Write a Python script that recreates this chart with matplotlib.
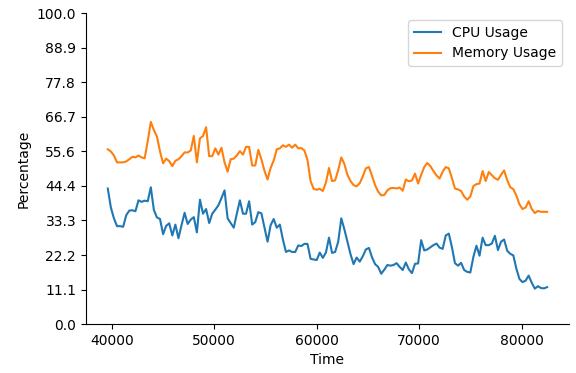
import numpy as np
import matplotlib
matplotlib.use("Agg")
import matplotlib.pyplot as plt

# sample times (one reading every 300 time units)
time = np.arange(39600, 82800, 300)

cpu_usage = [
    43.6, 37.5, 34.0, 31.5, 31.5, 31.3, 35.0, 36.5, 36.6, 36.3,
    39.8, 39.3, 39.7, 39.5, 44.0, 36.7, 34.3, 33.8, 28.9, 31.6,
    32.4, 28.5, 32.0, 27.6, 31.8, 35.8, 32.2, 33.6, 34.4, 29.5,
    40.0, 35.5, 37.0, 32.5, 35.5, 36.8, 38.2, 40.5, 43.0, 34.0,
    32.5, 31.0, 35.5, 39.8, 35.5, 35.5, 39.5, 32.0, 32.8, 36.0,
    35.6, 31.0, 26.5, 31.8, 33.8, 31.0, 32.0, 27.2, 23.2, 23.7,
    23.2, 23.2, 25.3, 25.1, 25.8, 25.8, 21.0, 20.8, 20.6, 23.0,
    21.3, 23.0, 27.8, 22.9, 23.2, 26.5, 34.0, 30.5, 26.5, 22.5,
    19.3, 21.4, 20.1, 21.8, 24.0, 24.5, 21.5, 19.3, 18.4, 16.2,
    17.5, 19.0, 18.8, 19.0, 19.6, 18.4, 17.4, 19.8, 17.6, 16.4,
    19.4, 19.5, 27.0, 23.7, 24.0, 24.7, 25.4, 25.9, 24.6, 24.2,
    28.5, 29.1, 24.8, 19.6, 18.8, 19.7, 17.4, 16.8, 16.6, 21.6,
    25.2, 22.0, 27.8, 25.4, 25.4, 25.9, 28.4, 23.8, 26.5, 27.2,
    23.6, 22.6, 22.1, 17.8, 14.5, 13.5, 14.0, 15.6, 13.3, 11.4,
    12.2, 11.6, 11.5, 11.9,
]

memory_usage = [
    56.2, 55.5, 54.2, 52.0, 52.0, 52.0, 52.3, 53.0, 53.8, 53.6,
    54.2, 53.6, 53.3, 58.8, 65.0, 62.4, 60.3, 55.5, 51.7, 53.2,
    52.4, 50.8, 52.5, 53.0, 54.0, 55.2, 55.2, 55.8, 60.5, 52.0,
    59.7, 60.5, 63.3, 54.0, 54.0, 56.5, 54.5, 56.7, 52.0, 49.0,
    53.0, 53.2, 54.2, 55.6, 54.5, 57.0, 57.0, 51.0, 51.0, 56.0,
    53.0, 49.3, 46.5, 50.2, 52.6, 56.2, 56.5, 57.5, 57.0, 57.7,
    56.7, 57.7, 56.5, 56.6, 55.8, 52.8, 46.0, 43.5, 43.2, 43.5,
    42.8, 45.5, 50.2, 46.0, 46.2, 49.5, 53.6, 51.5, 48.0, 46.0,
    44.7, 44.3, 45.3, 47.5, 50.1, 50.5, 47.7, 44.7, 42.6, 41.4,
    41.5, 43.0, 43.7, 43.8, 43.6, 43.9, 42.9, 46.5, 45.9, 46.2,
    48.4, 45.2, 48.0, 50.5, 51.8, 50.8, 49.2, 47.8, 46.8, 49.0,
    50.5, 50.1, 47.0, 43.6, 43.3, 42.8, 41.0, 40.0, 41.0, 44.4,
    45.0, 45.2, 49.2, 46.0, 48.9, 47.9, 46.9, 46.4, 48.0, 49.4,
    46.3, 44.0, 43.4, 41.3, 38.5, 37.0, 37.5, 39.5, 37.0, 35.7,
    36.4, 36.1, 36.1, 36.1,
]

fig, ax = plt.subplots(figsize=(5.76, 3.73), dpi=100)

ax.plot(time, cpu_usage, label="CPU Usage")
ax.plot(time, memory_usage, label="Memory Usage")

ax.set_ylim(0, 100)
ax.set_yticks(np.linspace(0, 100, 10))
ax.set_yticklabels([f"{v:.1f}" for v in np.linspace(0, 100, 10)])

ax.set_xlabel("Time")
ax.set_ylabel("Percentage")
ax.spines["top"].set_visible(False)
ax.spines["right"].set_visible(False)
ax.legend(loc="upper right")

fig.subplots_adjust(left=0.149, right=0.988, bottom=0.131, top=0.965)
fig.savefig("out.png", dpi=100)
